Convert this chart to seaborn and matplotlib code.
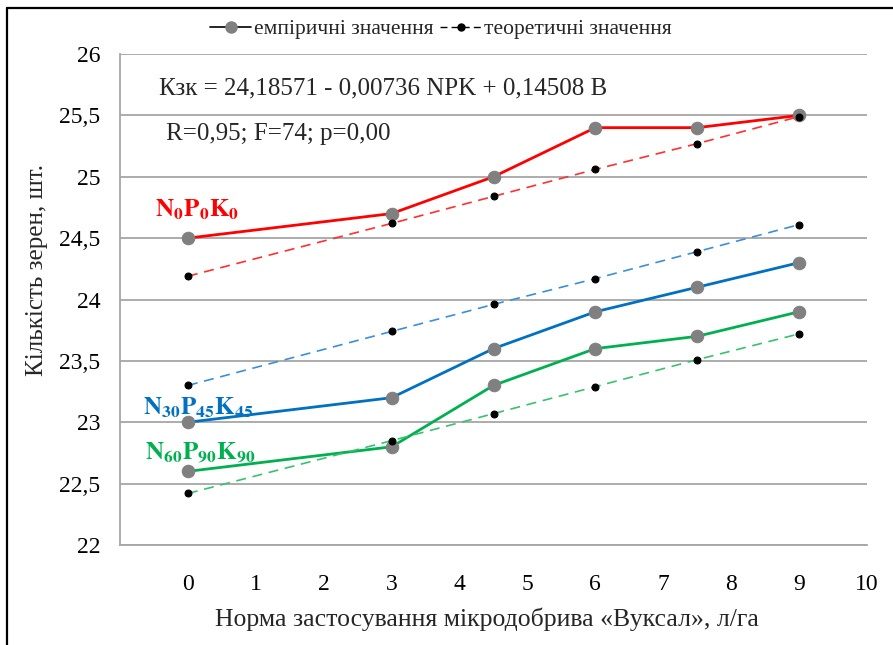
import matplotlib
matplotlib.use("Agg")
import matplotlib.pyplot as plt
from matplotlib.lines import Line2D
from matplotlib.ticker import FuncFormatter
import seaborn as sns

# ---- data ----
rates = [0, 3, 4.5, 6, 7.5, 9]
emp_n0 = [24.5, 24.7, 25.0, 25.4, 25.4, 25.5]
theo_n0 = [24.19, 24.62, 24.84, 25.06, 25.27, 25.49]
emp_n30 = [23.0, 23.2, 23.6, 23.9, 24.1, 24.3]
theo_n30 = [23.30, 23.74, 23.96, 24.17, 24.39, 24.61]
emp_n60 = [22.6, 22.8, 23.3, 23.6, 23.7, 23.9]
theo_n60 = [22.42, 22.85, 23.07, 23.29, 23.51, 23.72]
x_ticks = list(range(0, 11))
y_ticks = [22, 22.5, 23, 23.5, 24, 24.5, 25, 25.5, 26]

sns.set_theme(style="white")
plt.rcParams['font.family'] = ['Liberation Serif', 'DejaVu Serif']
plt.rcParams['mathtext.fontset'] = 'stix'

fig = plt.figure(figsize=(8.93, 6.45), dpi=100)
ax = fig.add_axes([120/893, 1-545/645, 747/893, 491/645])

series = [
    (emp_n0, theo_n0, "#FF0000", "#FF3030"),
    (emp_n30, theo_n30, "#0070C0", "#3C8FD6"),
    (emp_n60, theo_n60, "#00B050", "#3CC070"),
]
for emp, theo, c, ct in series:
    sns.lineplot(x=rates, y=emp, ax=ax, color=c, linewidth=2.0, marker='o',
                 markersize=9, markerfacecolor='#808080', markeredgecolor='#808080',
                 zorder=3)
for emp, theo, c, ct in series:
    sns.lineplot(x=rates, y=theo, ax=ax, color=ct, linewidth=1.2, linestyle=(0, (6, 4)),
                 marker='o', markersize=5, markerfacecolor='black', markeredgecolor='black',
                 zorder=4)

ax.set_xlim(-1, 10)
ax.set_ylim(22, 26)
ax.set_xticks([-1] + x_ticks)
ax.set_xticklabels([''] + [str(v) for v in x_ticks])
ax.set_yticks(y_ticks)
ax.yaxis.set_major_formatter(FuncFormatter(lambda v, p: f"{v:g}".replace('.', ',')))
ax.grid(axis='y', color='#A6A6A6', linewidth=1.3)
ax.grid(axis='x', visible=False)
for s in ['top', 'right']:
    ax.spines[s].set_visible(False)
for s in ['left', 'bottom']:
    ax.spines[s].set_color('#A6A6A6')
    ax.spines[s].set_linewidth(1.3)
ax.tick_params(axis='both', direction='out', length=6, width=1.2, color='#A6A6A6',
               labelsize=17, labelcolor='black')
ax.tick_params(axis='x', pad=15)
ax.tick_params(axis='y', pad=8)
ax.set_axisbelow(True)

ax.set_xlabel("Норма застосування мікродобрива «Вуксал», л/га", fontsize=18.5)
ax.set_ylabel("Кількість зерен, шт.", fontsize=18)
ax.xaxis.set_label_coords(0.491, -0.128)
ax.yaxis.set_label_coords(-0.097, 0.56)

ax.text(-0.42, 25.72, "Кзк = 24,18571 - 0,00736 NPK + 0,14508 B", fontsize=18, va='center', ha='left')
ax.text(-0.32, 25.35, "R=0,95; F=74; p=0,00", fontsize=18, va='center', ha='left')

ax.text(-0.48, 24.73, r"$\mathbf{N_0P_0K_0}$", color="#FF0000", fontsize=18, va='center', ha='left')
ax.text(-0.66, 23.12, r"$\mathbf{N_{30}P_{45}K_{45}}$", color="#0070C0", fontsize=18, va='center', ha='left')
ax.text(-0.63, 22.75, r"$\mathbf{N_{60}P_{90}K_{90}}$", color="#00B050", fontsize=18, va='center', ha='left')

handles = [
    Line2D([], [], color='black', linewidth=1.2, marker='o', markersize=8,
           markerfacecolor='#808080', markeredgecolor='#808080'),
    Line2D([], [], color='black', linewidth=1.0, linestyle=(0, (5, 3)), marker='o', markersize=5,
           markerfacecolor='black', markeredgecolor='black'),
]
fig.legend(handles, ["емпіричні значення", "теоретичні значення"], loc='center',
           bbox_to_anchor=(0.494, 0.955), ncol=2, frameon=False,
           prop={'family': ['Liberation Serif', 'DejaVu Serif'], 'size': 15.5},
           handlelength=1.9, handletextpad=0.15, columnspacing=0.3)

fig.add_artist(Line2D([7/893, 7/893], [0, 1-8/645], color='black', linewidth=1.6))
fig.add_artist(Line2D([7/893, 1], [1-8/645, 1-8/645], color='black', linewidth=1.6))

fig.savefig("out.png", dpi=100)
